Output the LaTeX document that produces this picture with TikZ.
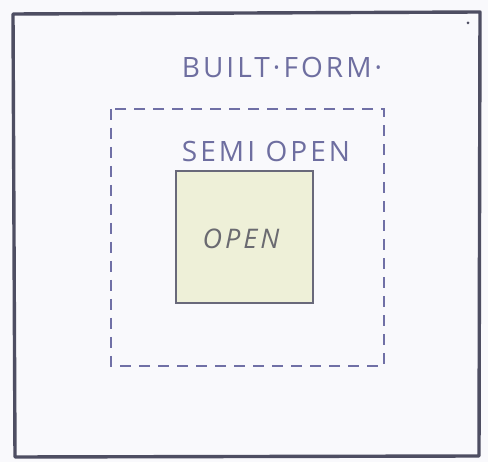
\documentclass[tikz,border=0pt]{standalone}
\usepackage{fontspec}
\setmainfont{Open Sans}
\newfontfamily\spaced[LetterSpace=11]{Open Sans}
\definecolor{paper}{HTML}{F9F9FC}
\definecolor{frame}{HTML}{4E4E62}
\definecolor{ink}{HTML}{6E6EA0}
\definecolor{dashink}{HTML}{7070A6}
\definecolor{openfill}{HTML}{EEF0D8}
\definecolor{openink}{HTML}{6A6A70}
\tikzset{
  label/.style={inner sep=0pt, text=ink, font=\spaced\fontsize{28}{32}\selectfont},
}
\begin{document}
\begin{tikzpicture}[x=1pt,y=-1pt]
\fill[paper] (0,0) rectangle (488,462);
\useasboundingbox (0,0) rectangle (488,462);
\draw[frame, line width=3.4pt, line join=round] (13,14) -- (480,12) -- (479,456) -- (15,457) -- cycle;
\fill[frame] (468,23) circle (1.5);
\node[label] (built) at (282,67) {BUILT·FORM·};
\draw[dashink, line width=2.6pt, dash pattern=on 11pt off 8pt] (111,109) rectangle (384,366);
\node[label] (semi) at (266,151) {SEMI OPEN};
\draw[frame!85, fill=openfill, line width=2.4pt] (176,171) rectangle (313,303);
\node[label, text=openink, font=\spaced\itshape\fontsize{27}{30}\selectfont] (open) at (241,239) {OPEN};
\end{tikzpicture}
\end{document}
